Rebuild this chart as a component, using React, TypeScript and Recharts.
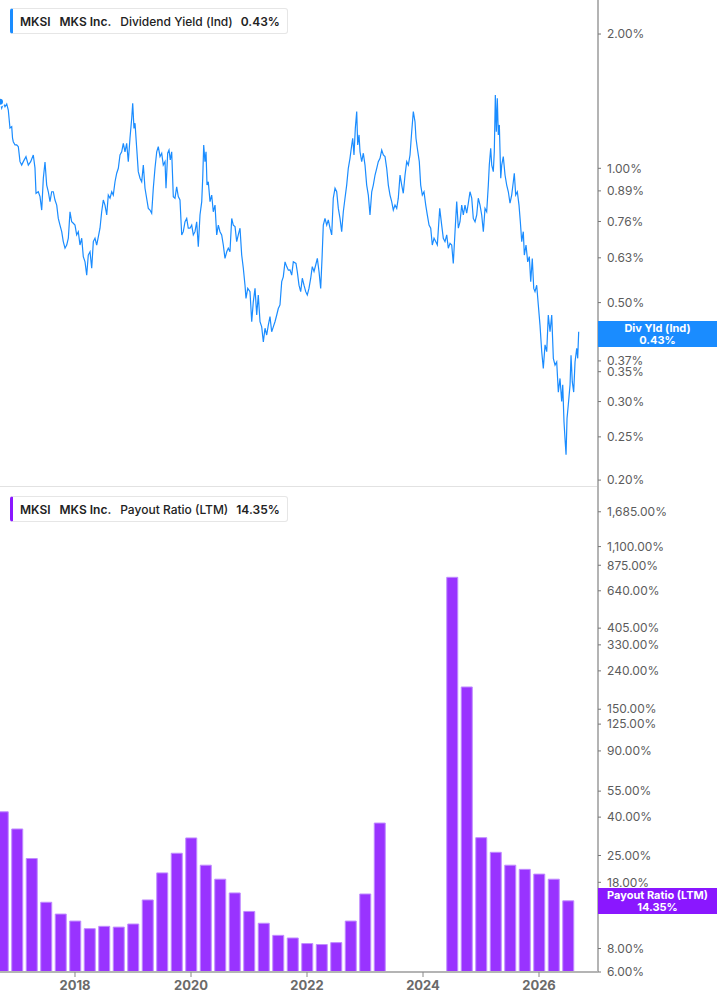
import React from "react";
import { Bar, BarChart, Line, LineChart, XAxis, YAxis } from "recharts";

// dividend yield (ind), % — dates as fractional years
const yieldDates = [
  2016.707, 2016.736, 2016.764, 2016.793, 2016.823, 2016.85, 2016.879, 2016.909, 2016.923, 2016.936,
  2016.966, 2016.995, 2017.023, 2017.052, 2017.081, 2017.109, 2017.155, 2017.195, 2017.236, 2017.281,
  2017.31, 2017.328, 2017.367, 2017.397, 2017.426, 2017.454, 2017.483, 2017.512, 2017.54, 2017.569,
  2017.598, 2017.626, 2017.655, 2017.685, 2017.712, 2017.741, 2017.771, 2017.798, 2017.828, 2017.857,
  2017.885, 2017.914, 2017.943, 2017.971, 2018.0, 2018.029, 2018.057, 2018.086, 2018.116, 2018.143,
  2018.173, 2018.202, 2018.229, 2018.259, 2018.288, 2018.316, 2018.345, 2018.374, 2018.402, 2018.431,
  2018.46, 2018.488, 2018.517, 2018.547, 2018.574, 2018.604, 2018.633, 2018.66, 2018.69, 2018.719,
  2018.747, 2018.776, 2018.805, 2018.833, 2018.862, 2018.891, 2018.919, 2018.948, 2018.978, 2018.995,
  2019.017, 2019.035, 2019.064, 2019.091, 2019.121, 2019.15, 2019.178, 2019.207, 2019.264, 2019.293,
  2019.322, 2019.35, 2019.379, 2019.409, 2019.436, 2019.466, 2019.495, 2019.522, 2019.552, 2019.569,
  2019.598, 2019.621, 2019.643, 2019.667, 2019.695, 2019.724, 2019.753, 2019.781, 2019.81, 2019.84,
  2019.867, 2019.897, 2019.926, 2019.953, 2019.983, 2020.012, 2020.04, 2020.069, 2020.098, 2020.126,
  2020.155, 2020.185, 2020.202, 2020.219, 2020.241, 2020.259, 2020.276, 2020.298, 2020.328, 2020.357,
  2020.384, 2020.414, 2020.443, 2020.471, 2020.5, 2020.529, 2020.557, 2020.586, 2020.616, 2020.643,
  2020.672, 2020.702, 2020.729, 2020.759, 2020.788, 2020.815, 2020.845, 2020.874, 2020.902, 2020.931,
  2020.948, 2020.978, 2021.017, 2021.047, 2021.074, 2021.104, 2021.133, 2021.16, 2021.19, 2021.219,
  2021.247, 2021.276, 2021.305, 2021.333, 2021.362, 2021.391, 2021.419, 2021.448, 2021.478, 2021.505,
  2021.534, 2021.564, 2021.591, 2021.621, 2021.65, 2021.678, 2021.707, 2021.736, 2021.764, 2021.81,
  2021.833, 2021.862, 2021.891, 2021.919, 2021.948, 2021.978, 2022.005, 2022.034, 2022.064, 2022.091,
  2022.121, 2022.15, 2022.178, 2022.207, 2022.236, 2022.259, 2022.281, 2022.31, 2022.34, 2022.367,
  2022.397, 2022.426, 2022.453, 2022.483, 2022.512, 2022.54, 2022.569, 2022.598, 2022.626, 2022.655,
  2022.684, 2022.712, 2022.741, 2022.771, 2022.788, 2022.81, 2022.833, 2022.857, 2022.874, 2022.897,
  2022.914, 2022.943, 2022.971, 2023.0, 2023.029, 2023.057, 2023.086, 2023.116, 2023.143, 2023.173,
  2023.202, 2023.229, 2023.259, 2023.288, 2023.316, 2023.345, 2023.374, 2023.402, 2023.431, 2023.46,
  2023.488, 2023.517, 2023.547, 2023.574, 2023.604, 2023.633, 2023.66, 2023.69, 2023.719, 2023.747,
  2023.776, 2023.805, 2023.833, 2023.862, 2023.879, 2023.902, 2023.936, 2023.96, 2023.988, 2024.017,
  2024.047, 2024.074, 2024.104, 2024.133, 2024.16, 2024.19, 2024.219, 2024.247, 2024.288, 2024.322,
  2024.35, 2024.379, 2024.409, 2024.436, 2024.466, 2024.495, 2024.522, 2024.552, 2024.581, 2024.609,
  2024.638, 2024.667, 2024.695, 2024.724, 2024.753, 2024.781, 2024.81, 2024.84, 2024.867, 2024.897,
  2024.926, 2024.953, 2024.983, 2025.012, 2025.04, 2025.069, 2025.098, 2025.126, 2025.143, 2025.167,
  2025.185, 2025.212, 2025.229, 2025.247, 2025.264, 2025.281, 2025.298, 2025.316, 2025.34, 2025.357,
  2025.384, 2025.414, 2025.443, 2025.471, 2025.5, 2025.529, 2025.557, 2025.574, 2025.598, 2025.626,
  2025.655, 2025.678, 2025.702, 2025.729, 2025.747, 2025.776, 2025.805, 2025.833, 2025.857, 2025.884,
  2025.909, 2025.931, 2025.96, 2025.988, 2026.017, 2026.047, 2026.074, 2026.104, 2026.133, 2026.16,
  2026.19, 2026.219, 2026.247, 2026.276, 2026.305, 2026.333, 2026.362, 2026.391, 2026.409, 2026.431,
  2026.448, 2026.466, 2026.483, 2026.505, 2026.535, 2026.552, 2026.574, 2026.598, 2026.621, 2026.65,
  2026.667, 2026.684,
];

const yieldValues = [
  1.41, 1.365, 1.401, 1.374, 1.394, 1.351, 1.231, 1.24, 1.169, 1.147,
  1.128, 1.128, 1.118, 1.035, 1.017, 1.035, 1.062, 1.017, 1.035, 1.071,
  1.002, 0.879, 0.886, 0.864, 0.806, 0.95, 1.033, 0.917, 0.886, 0.842,
  0.886, 0.886, 0.849, 0.827, 0.772, 0.746, 0.721, 0.685, 0.662, 0.673,
  0.697, 0.799, 0.759, 0.753, 0.746, 0.709, 0.721, 0.673, 0.697, 0.634,
  0.617, 0.576, 0.639, 0.65, 0.597, 0.685, 0.697, 0.673, 0.702, 0.734,
  0.799, 0.849, 0.827, 0.786, 0.871, 0.857, 0.886, 0.871, 0.933, 0.975,
  1.0, 1.071, 1.089, 1.138, 1.089, 1.138, 1.035, 1.168, 1.295, 1.399,
  1.229, 1.262, 1.109, 0.983, 0.95, 0.933, 1.017, 0.902, 0.813, 0.806,
  0.793, 0.902, 1.0, 1.089, 1.118, 1.062, 1.081, 1.017, 1.035, 0.902,
  1.081, 1.099, 1.044, 1.089, 0.864, 0.857, 0.909, 0.864, 0.849, 0.709,
  0.721, 0.759, 0.772, 0.734, 0.734, 0.746, 0.709, 0.721, 0.759, 0.667,
  0.786, 0.842, 0.95, 1.128, 1.035, 1.089, 0.917, 0.933, 0.842, 0.871,
  0.799, 0.827, 0.709, 0.746, 0.721, 0.709, 0.673, 0.628, 0.65, 0.662,
  0.65, 0.772, 0.746, 0.74, 0.685, 0.709, 0.734, 0.639, 0.597, 0.547,
  0.511, 0.538, 0.529, 0.453, 0.502, 0.538, 0.469, 0.52, 0.453, 0.441,
  0.408, 0.438, 0.423, 0.445, 0.465, 0.43, 0.441, 0.453, 0.469, 0.485,
  0.494, 0.557, 0.571, 0.617, 0.602, 0.591, 0.592, 0.576, 0.617, 0.612,
  0.586, 0.547, 0.529, 0.567, 0.547, 0.529, 0.52, 0.538, 0.567, 0.602,
  0.587, 0.607, 0.628, 0.587, 0.538, 0.628, 0.746, 0.772, 0.746, 0.766,
  0.734, 0.709, 0.857, 0.902, 0.886, 0.813, 0.772, 0.721, 0.799, 0.857,
  0.917, 1.0, 1.053, 1.128, 1.168, 1.071, 1.229, 1.34, 1.128, 1.188,
  1.089, 1.035, 1.081, 1.017, 0.917, 0.871, 0.786, 0.886, 0.917, 0.966,
  1.0, 1.035, 1.053, 1.099, 1.071, 1.062, 1.0, 0.917, 0.871, 0.842,
  0.806, 0.827, 0.813, 0.857, 0.966, 0.917, 0.879, 0.966, 1.035, 1.017,
  1.071, 1.208, 1.34, 1.272, 1.168, 1.109, 1.035, 0.917, 0.871, 0.886,
  0.827, 0.786, 0.746, 0.734, 0.673, 0.697, 0.685, 0.673, 0.813, 0.746,
  0.697, 0.685, 0.709, 0.662, 0.679, 0.673, 0.612, 0.721, 0.842, 0.734,
  0.759, 0.827, 0.786, 0.827, 0.793, 0.835, 0.886, 0.857, 0.772, 0.759,
  0.786, 0.857, 0.827, 0.786, 0.721, 0.813, 0.799, 0.917, 1.017, 1.109,
  1.017, 0.983, 1.089, 1.46, 1.208, 1.435, 1.188, 1.251, 0.95, 1.017,
  1.062, 0.966, 0.917, 0.886, 0.835, 0.871, 0.933, 0.975, 0.871, 0.886,
  0.827, 0.759, 0.685, 0.721, 0.639, 0.673, 0.617, 0.634, 0.557, 0.628,
  0.538, 0.529, 0.547, 0.494, 0.445, 0.388, 0.356, 0.402, 0.388, 0.469,
  0.43, 0.469, 0.375, 0.362, 0.368, 0.315, 0.338, 0.3, 0.327, 0.27,
  0.248, 0.228, 0.275, 0.295, 0.327, 0.381, 0.332, 0.315, 0.368, 0.395,
  0.375, 0.43,
];

// payout ratio (LTM), % — quarterly
const payoutDates = [
  2016.75, 2017.0, 2017.25, 2017.5, 2017.75, 2018.0, 2018.25, 2018.5, 2018.75,
  2019.0, 2019.25, 2019.5, 2019.75, 2020.0, 2020.25, 2020.5, 2020.75,
  2021.0, 2021.25, 2021.5, 2021.75, 2022.0, 2022.25, 2022.5, 2022.75,
  2023.0, 2023.25,
  2024.5, 2024.75, 2025.0, 2025.25, 2025.5, 2025.75, 2026.0, 2026.25, 2026.5,
];
const payoutValues = [
  42.7, 34.6, 24.1, 14.1, 12.2, 11.2, 10.2, 10.5, 10.4,
  10.8, 14.5, 20.2, 25.7, 31.0, 22.2, 18.7, 15.8,
  12.6, 10.9, 9.4, 9.1, 8.5, 8.4, 8.6, 11.2,
  15.6, 37.2,
  755, 197, 31.1, 26.0, 22.2, 21.1, 19.9, 18.7, 14.35,
];

const yieldTicks = [0.2, 0.25, 0.3, 0.35, 0.37, 0.5, 0.63, 0.76, 0.89, 1, 2];
const payoutTicks = [6, 8, 13, 18, 25, 40, 55, 90, 125, 150, 240, 330, 405, 640, 875, 1100, 1685];
const yearTicks = [2018, 2020, 2022, 2024, 2026];

const timeDomain: [number, number] = [2016.707, 2027.017];
const FONT = "Inter, 'Noto Sans', sans-serif";
const axisGray = "#b4b4b4";
const tickStyle = { fill: "#5c5c5c", fontSize: 12, fontFamily: FONT };

const yieldData = yieldDates.map((t, i) => ({ t, v: yieldValues[i] }));
const payoutData = payoutDates.map((t, i) => ({ t, v: payoutValues[i] }));

const pct = (v: number) =>
  v.toLocaleString("en-US", { minimumFractionDigits: 2, maximumFractionDigits: 2 }) + "%";

function LegendBox({ top, accent, label, value }: { top: number; accent: string; label: string; value: string }) {
  return (
    <div
      style={{
        position: "absolute",
        left: 10,
        top,
        height: 24,
        display: "flex",
        alignItems: "center",
        border: "1px solid #e6e6e6",
        borderLeft: `3px solid ${accent}`,
        borderRadius: 3,
        background: "#fff",
        padding: "0 7px 0 7px",
        fontSize: 12,
        color: "#222",
        whiteSpace: "nowrap",
      }}
    >
      <span style={{ fontWeight: 600 }}>MKSI</span>
      <span style={{ fontWeight: 600, marginLeft: 9 }}>MKS Inc.</span>
      <span style={{ fontWeight: 500, marginLeft: 9 }}>{label}</span>
      <span style={{ fontWeight: 600, marginLeft: 8 }}>{value}</span>
    </div>
  );
}

function ValueTag({ top, color, label, value }: { top: number; color: string; label: string; value: string }) {
  return (
    <div
      style={{
        position: "absolute",
        left: 598,
        top,
        width: 119,
        height: 26,
        background: color,
        color: "#fff",
        fontSize: 11,
        fontWeight: 700,
        lineHeight: "12px",
        textAlign: "center",
        display: "flex",
        flexDirection: "column",
        justifyContent: "center",
      }}
    >
      <span>{label}</span>
      <span>{value}</span>
    </div>
  );
}

export default function App() {
  return (
    <div
      style={{
        position: "absolute",
        left: 0,
        top: 0,
        width: 717,
        height: 1005,
        background: "#fff",
        fontFamily: FONT,
        overflow: "hidden",
      }}
    >
      <LineChart width={717} height={487} data={yieldData} margin={{ top: 0, right: 0, bottom: 0, left: 0 }}>
        <XAxis dataKey="t" type="number" domain={timeDomain} allowDataOverflow hide />
        <YAxis
          orientation="right"
          width={119}
          scale="log"
          domain={[0.193, 2.384]}
          allowDataOverflow
          ticks={yieldTicks}
          interval={0}
          tickFormatter={pct}
          tick={tickStyle}
          tickSize={3}
          tickMargin={6}
          tickLine={{ stroke: "#777" }}
          axisLine={{ stroke: axisGray, strokeWidth: 2 }}
        />
        <Line
          dataKey="v"
          type="linear"
          stroke="#1a8cff"
          strokeWidth={1.2}
          dot={false}
          isAnimationActive={false}
        />
      </LineChart>

      <div style={{ position: "absolute", left: 0, top: 486, width: 598, height: 1, background: "#e2e2e2" }} />
      <div style={{ position: "absolute", left: 597, top: 484, width: 2, height: 8, background: axisGray }} />

      <div style={{ position: "absolute", left: 0, top: 487 }}>
        <BarChart width={717} height={518} data={payoutData} margin={{ top: 3, right: 0, bottom: 3, left: 0 }}>
          <XAxis
            dataKey="t"
            type="number"
            domain={timeDomain}
            allowDataOverflow
            ticks={yearTicks}
            interval={0}
            height={30}
            tickFormatter={(v: number) => String(v)}
            tick={{ fill: "#6a6a6a", fontSize: 13, fontWeight: 700, fontFamily: FONT }}
            tickSize={5}
            tickMargin={4}
            tickLine={{ stroke: "#888" }}
            axisLine={{ stroke: axisGray, strokeWidth: 2 }}
          />
          <YAxis
            orientation="right"
            width={119}
            scale="log"
            domain={[6, 2200]}
            allowDataOverflow
            ticks={payoutTicks}
            interval={0}
            tickFormatter={pct}
            tick={tickStyle}
            tickSize={3}
            tickMargin={6}
            tickLine={{ stroke: "#777" }}
            axisLine={{ stroke: axisGray, strokeWidth: 2 }}
          />
          <Bar dataKey="v" fill="#9933ff" stroke="#c08cff" strokeWidth={1} barSize={11} isAnimationActive={false} />
        </BarChart>
      </div>

      <LegendBox top={8} accent="#1a8cff" label="Dividend Yield (Ind)" value="0.43%" />
      <LegendBox top={496} accent="#8a17ff" label="Payout Ratio (LTM)" value="14.35%" />

      <ValueTag top={321} color="#1a8cff" label="Div Yld (Ind)" value="0.43%" />
      <ValueTag top={888} color="#8a17ff" label="Payout Ratio (LTM)" value="14.35%" />
    </div>
  );
}
